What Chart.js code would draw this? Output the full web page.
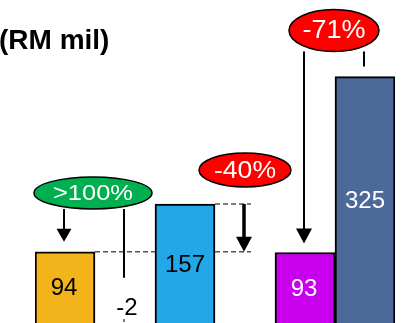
<!DOCTYPE html>
<html>
<head>
<meta charset="utf-8">
<script src="https://cdn.jsdelivr.net/npm/chart.js@4/dist/chart.umd.min.js"></script>
<style>
  html, body { margin: 0; padding: 0; background: #fff; overflow: hidden; }
  #wrap { width: 414px; height: 323px; position: relative; }
</style>
</head>
<body>
<div id="wrap"><canvas id="c" width="414" height="323"></canvas></div>
<script>
// Bridge of earnings (RM mil)
const categories = ['FY2019', 'Other', 'FY2020', 'Change', 'Q1 FY2021', 'Q1 FY2020'];
const values = [94, -2, 157, null, 93, 325];
const barColors = ['#F3B31B', 'rgba(0,0,0,0)', '#22A8E9', 'rgba(0,0,0,0)', '#C800EE', '#4B6A9A'];
const barBorders = [2, 0, 2, 0, 2, 2];
const labelColors = ['#000', '#000', '#000', '#000', '#fff', '#fff'];
const changeLabels = ['>100%', '-40%', '-71%'];
const unitTitle = '(RM mil)';

const FONT = '"Liberation Sans", Arial, sans-serif';

function ellipseLabel(ctx, text, x, y, rx, ry, fill, size, width) {
  ctx.save();
  ctx.beginPath();
  ctx.ellipse(x, y, rx, ry, 0, 0, Math.PI * 2);
  ctx.fillStyle = fill;
  ctx.fill();
  ctx.lineWidth = 1.5;
  ctx.strokeStyle = '#000';
  ctx.stroke();
  ctx.font = size + 'px ' + FONT;
  ctx.fillStyle = '#fff';
  ctx.textAlign = 'center';
  ctx.textBaseline = 'middle';
  const natural = ctx.measureText(text).width;
  ctx.translate(x, y + 1);
  ctx.scale(width / natural, 1);
  ctx.fillText(text, 0, 0);
  ctx.restore();
}

function arrow(ctx, x, y1, tip, lw, headW, headH) {
  ctx.save();
  ctx.strokeStyle = '#000';
  ctx.fillStyle = '#000';
  ctx.lineWidth = lw;
  ctx.beginPath();
  ctx.moveTo(x, y1);
  ctx.lineTo(x, tip - headH + 1);
  ctx.stroke();
  ctx.beginPath();
  ctx.moveTo(x - headW / 2, tip - headH);
  ctx.lineTo(x + headW / 2, tip - headH);
  ctx.lineTo(x, tip);
  ctx.closePath();
  ctx.fill();
  ctx.restore();
}

function line(ctx, x1, y1, x2, y2, lw, color, dash) {
  ctx.save();
  ctx.strokeStyle = color;
  ctx.lineWidth = lw;
  ctx.setLineDash(dash || []);
  ctx.beginPath();
  ctx.moveTo(x1, y1);
  ctx.lineTo(x2, y2);
  ctx.stroke();
  ctx.restore();
}

const bridgeDecor = {
  id: 'bridgeDecor',
  afterDatasetsDraw(chart) {
    const ctx = chart.ctx;
    const xs = chart.scales.x, ys = chart.scales.y;
    const cx = i => xs.getPixelForValue(i);
    const half = (cx(1) - cx(0)) / 2;
    const top = i => ys.getPixelForValue(values[i]);
    const base = ys.getPixelForValue(0);

    // unit title
    ctx.save();
    ctx.font = 'bold 28px ' + FONT;
    ctx.fillStyle = '#000';
    ctx.textBaseline = 'alphabetic';
    ctx.fillText(unitTitle, -1, 49);
    ctx.restore();

    // dashed level connectors
    const dash = [5, 3];
    line(ctx, cx(0) + half, top(0), cx(2) - half, top(0), 1.5, '#555', dash);
    line(ctx, cx(2) + half, top(2), cx(3) + 6, top(2), 1.5, '#555', dash);
    line(ctx, cx(2) + half, top(0), cx(3) + 6, top(0), 1.5, '#555', dash);
    line(ctx, cx(1) - 1, base - 4, cx(1) - 1, base, 1.5, '#555', [3, 2]);

    // thick drop arrow
    arrow(ctx, cx(3) - 1, top(2), top(0), 3.5, 16, 15);

    // >100% callout
    const gx = cx(0) + 28, gy = top(2) - 11, gry = 16;
    line(ctx, cx(1) - 1, gy + gry, cx(1) - 1, top(0) + 26, 2, '#000');
    arrow(ctx, cx(0) - 1, gy + gry, top(0) - 10, 2, 15, 13);
    ellipseLabel(ctx, changeLabels[0], gx, gy, 59, gry, '#00B050', 22, 80);

    // -40% callout
    ellipseLabel(ctx, changeLabels[1], cx(3), top(2) - 34, 46, 17, '#FF0000', 24, 62);

    // -71% callout
    const ry71 = 21, ey = top(5) - 46;
    line(ctx, cx(5) - 1, ey + ry71, cx(5) - 1, top(5) - 10, 2, '#000');
    arrow(ctx, cx(4) - 1, ey + ry71, top(4) - 9, 2, 16, 15);
    ellipseLabel(ctx, changeLabels[2], cx(4) + 29, ey, 45, ry71, '#FF0000', 25, 63);

    // value labels
    ctx.save();
    ctx.font = '24px ' + FONT;
    ctx.textAlign = 'center';
    ctx.textBaseline = 'middle';
    const offsets = [37, null, 61, null, 37, 125];
    offsets.forEach((off, i) => {
      if (off === null) return;
      ctx.fillStyle = labelColors[i];
      ctx.fillText(String(values[i]), cx(i) - (i === 0 || i === 4 ? 1 : 0), top(i) + off);
    });
    ctx.fillStyle = labelColors[1];
    ctx.fillText(String(values[1]), cx(1) + 2, base - 15);
    ctx.restore();
  }
};

new Chart(document.getElementById('c'), {
  type: 'bar',
  data: {
    labels: categories,
    datasets: [{
      data: values,
      backgroundColor: barColors,
      borderColor: '#000',
      borderWidth: barBorders,
      barPercentage: 1,
      categoryPercentage: 1
    }]
  },
  options: {
    responsive: false,
    animation: false,
    layout: { padding: { left: 35, right: 19, top: 0, bottom: 0 } },
    scales: {
      x: { display: false, offset: true },
      y: { display: false, min: 0, max: 426 }
    },
    plugins: {
      legend: { display: false },
      tooltip: { enabled: false },
      title: { display: false }
    }
  },
  plugins: [bridgeDecor]
});
</script>
</body>
</html>
